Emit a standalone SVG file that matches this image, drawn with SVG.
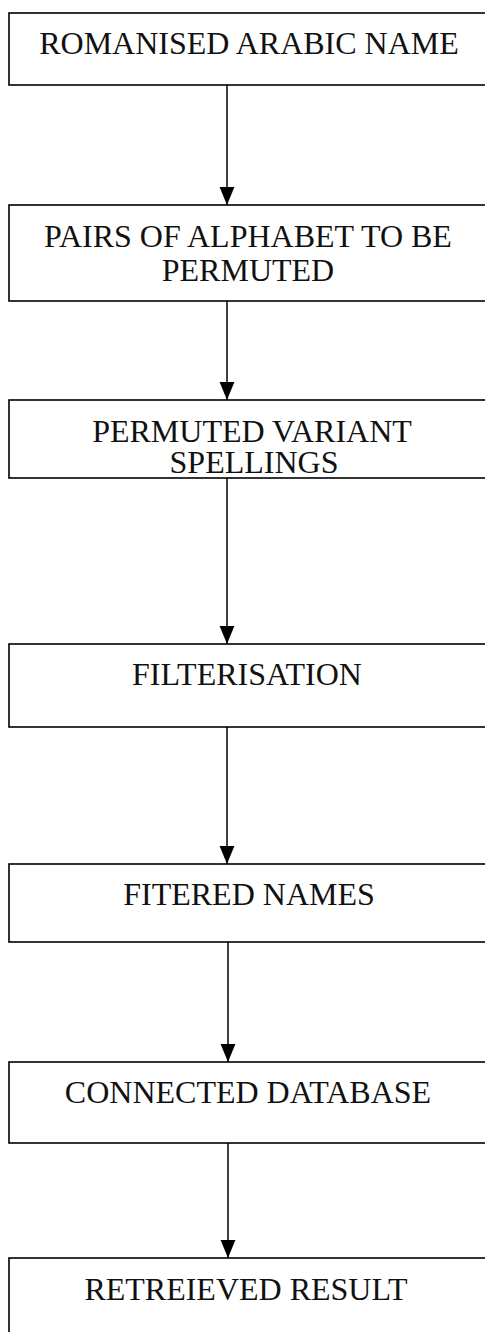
<svg xmlns="http://www.w3.org/2000/svg" width="485" height="1332" viewBox="0 0 485 1332">
<style>
.box{fill:#fff;stroke:#000;stroke-width:1.6}
.lbl{font-family:"Liberation Serif","Times New Roman",serif;font-size:32px;fill:#111;text-anchor:middle}
.con{stroke:#000;stroke-width:1.5;fill:none}
</style>
<defs>
<marker id="ah" markerUnits="userSpaceOnUse" markerWidth="18" markerHeight="16" refX="17" refY="7" orient="auto" viewBox="0 0 17 14">
<path d="M0,0 L17,7 L0,14 Z" fill="#000"/>
</marker>
</defs>
<g id="n1"><rect class="box" x="9" y="13" width="490" height="72"/><text class="lbl" x="249" y="54">ROMANISED ARABIC NAME</text></g>
<g id="n2"><rect class="box" x="9" y="205" width="490" height="96"/><text class="lbl" x="248" y="247">PAIRS OF ALPHABET TO BE<tspan x="248" dy="34">PERMUTED</tspan></text></g>
<g id="n3"><rect class="box" x="9" y="400" width="490" height="78"/><text class="lbl" x="252" y="442">PERMUTED VARIANT<tspan x="254" dy="31">SPELLINGS</tspan></text></g>
<g id="n4"><rect class="box" x="9" y="644" width="490" height="83"/><text class="lbl" x="247" y="685">FILTERISATION</text></g>
<g id="n5"><rect class="box" x="9" y="864" width="490" height="78"/><text class="lbl" x="249" y="905">FITERED NAMES</text></g>
<g id="n6"><rect class="box" x="9" y="1062" width="490" height="81"/><text class="lbl" x="248" y="1103">CONNECTED DATABASE</text></g>
<g id="n7"><rect class="box" x="9" y="1258" width="490" height="90"/><text class="lbl" x="246" y="1300">RETREIEVED RESULT</text></g>
<g id="connectors">
<line class="con" x1="227" y1="85" x2="227" y2="205" marker-end="url(#ah)"/>
<line class="con" x1="227" y1="301" x2="227" y2="400" marker-end="url(#ah)"/>
<line class="con" x1="227" y1="478" x2="227" y2="644" marker-end="url(#ah)"/>
<line class="con" x1="227" y1="727" x2="227" y2="864" marker-end="url(#ah)"/>
<line class="con" x1="228" y1="942" x2="228" y2="1062" marker-end="url(#ah)"/>
<line class="con" x1="228" y1="1143" x2="228" y2="1258" marker-end="url(#ah)"/>
</g>
</svg>
